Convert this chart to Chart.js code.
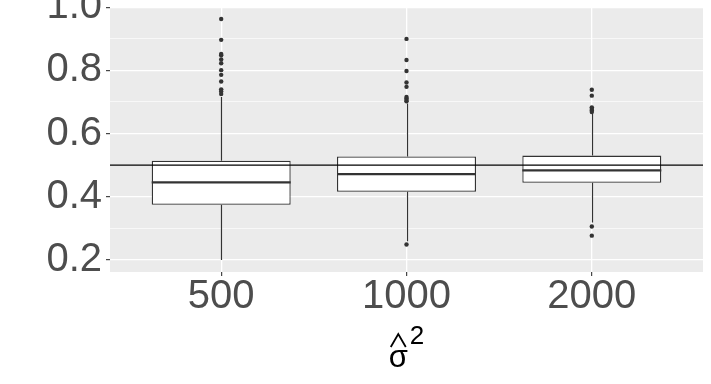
<!DOCTYPE html>
<html><head><meta charset="utf-8">
<script src="https://cdn.jsdelivr.net/npm/chart.js@4.4.0/dist/chart.umd.min.js"></script>
<style>html,body{margin:0;padding:0;background:#fff}</style>
</head><body>
<canvas id="c" width="711" height="384"></canvas>
<script>
// ---- data ----
const categories = ['500', '1000', '2000'];
const lowerWhisker = [0.199, 0.258, 0.318];
const q1 = [0.374, 0.415, 0.444];
const median = [0.445, 0.471, 0.483];
const q3 = [0.514, 0.527, 0.530];
const upperWhisker = [0.716, 0.695, 0.663];
const outliers500 = [0.963, 0.897, 0.852, 0.848, 0.835, 0.823, 0.801, 0.786, 0.765, 0.740, 0.733, 0.725];
const outliers1000 = [0.900, 0.833, 0.798, 0.762, 0.748, 0.716, 0.711, 0.706, 0.702, 0.248];
const outliers2000 = [0.739, 0.720, 0.683, 0.678, 0.673, 0.668, 0.305, 0.276];
const referenceValue = 0.5;
const yTickValues = [0.2, 0.3, 0.4, 0.5, 0.6, 0.7, 0.8, 0.9, 1.0];
const yMajorTicks = [0.2, 0.4, 0.6, 0.8, 1.0];

// ---- derived ----
const outlierSets = [outliers500, outliers1000, outliers2000];
const allVals = [].concat(lowerWhisker, upperWhisker, ...outlierSets);
const dMin = Math.min(...allVals), dMax = Math.max(...allVals);
const yMin = dMin - 0.05 * (dMax - dMin), yMax = dMax + 0.05 * (dMax - dMin);
const isMajor = v => yMajorTicks.some(m => Math.abs(m - v) < 1e-6);

const boxData = categories.map((c, i) => ({ x: i + 1, y: [q1[i], q3[i]] }));
const outlierData = [];
outlierSets.forEach((arr, i) => arr.forEach(v => outlierData.push({ x: i + 1, y: v })));

const INK = '#333333';

const boxPlugin = {
  id: 'boxExtras',
  beforeDraw(chart) {
    const { ctx, chartArea: a } = chart;
    ctx.save();
    ctx.fillStyle = '#ffffff';
    ctx.fillRect(0, 0, chart.width, chart.height);
    ctx.fillStyle = '#EBEBEB';
    ctx.fillRect(a.left, a.top, a.right - a.left, a.bottom - a.top);
    ctx.restore();
  },
  beforeDatasetsDraw(chart) {
    const { ctx } = chart;
    const xs = chart.scales.x, ys = chart.scales.y;
    ctx.save();
    ctx.strokeStyle = INK;
    ctx.lineWidth = 1.2;
    categories.forEach((c, i) => {
      const x = Math.round(xs.getPixelForValue(i + 1)) + 0.5;
      ctx.beginPath();
      ctx.moveTo(x, ys.getPixelForValue(q3[i]));
      ctx.lineTo(x, ys.getPixelForValue(upperWhisker[i]));
      ctx.moveTo(x, ys.getPixelForValue(q1[i]));
      ctx.lineTo(x, ys.getPixelForValue(lowerWhisker[i]));
      ctx.stroke();
    });
    ctx.restore();
  },
  afterDatasetsDraw(chart) {
    const { ctx, chartArea: a } = chart;
    const ys = chart.scales.y;
    const meta = chart.getDatasetMeta(0);
    ctx.save();
    ctx.strokeStyle = INK;
    ctx.lineWidth = 2.2;
    meta.data.forEach((bar, i) => {
      const p = bar.getProps(['x', 'width'], true);
      const y = ys.getPixelForValue(median[i]);
      ctx.beginPath();
      ctx.moveTo(p.x - p.width / 2, y);
      ctx.lineTo(p.x + p.width / 2, y);
      ctx.stroke();
    });
    // reference line
    const yr = ys.getPixelForValue(referenceValue);
    ctx.strokeStyle = '#000000';
    ctx.lineWidth = 1.2;
    ctx.beginPath();
    ctx.moveTo(a.left, yr);
    ctx.lineTo(a.right, yr);
    ctx.stroke();
    ctx.restore();
  },
  afterDraw(chart) {
    // x axis title: sigma-hat squared
    const { ctx, chartArea: a } = chart;
    const cx = (a.left + a.right) / 2;
    ctx.save();
    ctx.fillStyle = '#000000';
    ctx.textBaseline = 'alphabetic';
    ctx.textAlign = 'left';
    const f1 = '31px "Liberation Sans", Arial, sans-serif';
    const f2 = '26px "Liberation Sans", Arial, sans-serif';
    ctx.font = f1;
    const sw = ctx.measureText('σ').width;
    ctx.font = f2;
    const tw = ctx.measureText('2').width;
    const gap = 2;
    const total = sw + gap + tw;
    const sx = cx - total / 2;
    ctx.font = f1;
    ctx.fillText('σ', sx, 367);
    ctx.font = f2;
    ctx.fillText('2', sx + sw + gap, 344);
    // hat
    const hx = sx + sw / 2;
    ctx.strokeStyle = '#000000';
    ctx.lineWidth = 1.8;
    ctx.beginPath();
    ctx.moveTo(hx - 7.5, 347);
    ctx.lineTo(hx, 334);
    ctx.lineTo(hx + 7.5, 347);
    ctx.stroke();
    ctx.restore();
  }
};

new Chart(document.getElementById('c'), {
  type: 'bar',
  data: {
    datasets: [
      {
        type: 'bar',
        data: boxData,
        backgroundColor: '#ffffff',
        borderColor: INK,
        borderWidth: 1.3,
        borderSkipped: false,
        categoryPercentage: 1,
        barPercentage: 0.75,
        order: 2
      },
      {
        type: 'scatter',
        data: outlierData,
        backgroundColor: INK,
        borderColor: INK,
        borderWidth: 0,
        pointRadius: 2.2,
        order: 1
      }
    ]
  },
  options: {
    responsive: false,
    animation: false,
    devicePixelRatio: 1,
    layout: { padding: { top: 7, right: 8, left: 0, bottom: 0 } },
    plugins: { legend: { display: false }, tooltip: { enabled: false }, title: { display: false } },
    scales: {
      x: {
        type: 'linear',
        min: 0.4,
        max: 3.6,
        offset: false,
        afterBuildTicks: s => { s.ticks = categories.map((c, i) => ({ value: i + 1 })); },
        afterFit: s => { s.height = 112; s.paddingLeft = 0; s.paddingRight = 0; },
        border: { display: false },
        grid: { offset: false, color: '#ffffff', lineWidth: 1.3, tickLength: 4, tickColor: INK, tickWidth: 1.1 },
        ticks: {
          autoSkip: false, maxRotation: 0, padding: 1,
          color: '#4D4D4D',
          font: { family: '"Liberation Sans", Arial, sans-serif', size: 40, lineHeight: 1 },
          callback: v => categories[Math.round(v) - 1]
        }
      },
      y: {
        type: 'linear',
        min: yMin,
        max: yMax,
        afterBuildTicks: s => { s.ticks = yTickValues.map(v => ({ value: v })); },
        afterFit: s => { s.width = 110; s.paddingTop = 0; s.paddingBottom = 0; },
        border: { display: false },
        grid: {
          color: '#ffffff',
          lineWidth: c => (isMajor(c.tick.value) ? 1.3 : 0.65),
          tickLength: 4,
          tickColor: c => (isMajor(c.tick.value) ? INK : 'rgba(0,0,0,0)'),
          tickWidth: 1.1
        },
        ticks: {
          autoSkip: false, padding: 4,
          color: '#4D4D4D',
          font: { family: '"Liberation Sans", Arial, sans-serif', size: 40, lineHeight: 1 },
          callback: v => (isMajor(v) ? v.toFixed(1) : '')
        }
      }
    }
  },
  plugins: [boxPlugin]
});
</script>
</body></html>
